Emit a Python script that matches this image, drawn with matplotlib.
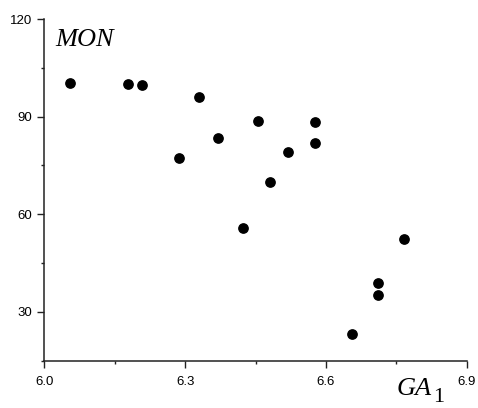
import numpy as np
import matplotlib.pyplot as plt
from matplotlib.ticker import MultipleLocator

# valores
ga1 = [6.055, 6.179, 6.208, 6.330, 6.456, 6.577, 6.371, 6.577,
       6.286, 6.520, 6.480, 6.423, 6.767, 6.711, 6.711, 6.655]
mon = [100.3, 100.0, 99.7, 96.0, 88.7, 88.2, 83.4, 81.8,
       77.4, 79.0, 69.9, 55.7, 52.4, 38.9, 35.1, 23.2]

xticks = [6.0, 6.3, 6.6, 6.9]
yticks = [30, 60, 90, 120]

fig = plt.figure(figsize=(4.78, 4.08), dpi=100)
ax = fig.add_axes([0.0927, 0.1159, 0.8837, 0.8375])

ax.scatter(ga1, mon, s=45, color='black', zorder=3, clip_on=False)

ax.set_xlim(6.0, 6.9)
ax.set_ylim(15, 120)
ax.set_xticks(xticks)
ax.set_yticks(yticks)
ax.set_xticklabels(['6.0', '6.3', '6.6', '6.9'])
ax.xaxis.set_minor_locator(MultipleLocator(0.15))
ax.yaxis.set_minor_locator(MultipleLocator(15))

for s in ['top', 'right']:
    ax.spines[s].set_visible(False)
for s in ['left', 'bottom']:
    ax.spines[s].set_color('#222222')
    ax.spines[s].set_linewidth(1.1)

ax.tick_params(which='major', direction='out', length=5, width=1,
               color='#222222', labelsize=9.5, pad=4,
               labelfontfamily='Liberation Sans')
ax.tick_params(which='minor', direction='out', length=2.5, width=1,
               color='#222222')
ax.tick_params(axis='x', which='major', pad=6)

ax.text(0.025, 0.97, 'MON', transform=ax.transAxes, fontsize=19,
        family='Liberation Serif', style='italic', va='top', ha='left')
ga = ax.text(0.835, -0.05, 'GA', transform=ax.transAxes, fontsize=19,
             family='Liberation Serif', style='italic', va='top', ha='left')
ax.annotate('1', xy=(1, 0), xycoords=ga, xytext=(1, -5),
            textcoords='offset points', fontsize=16,
            family='Liberation Serif', va='bottom', ha='left')

plt.savefig('out.png', dpi=100)
